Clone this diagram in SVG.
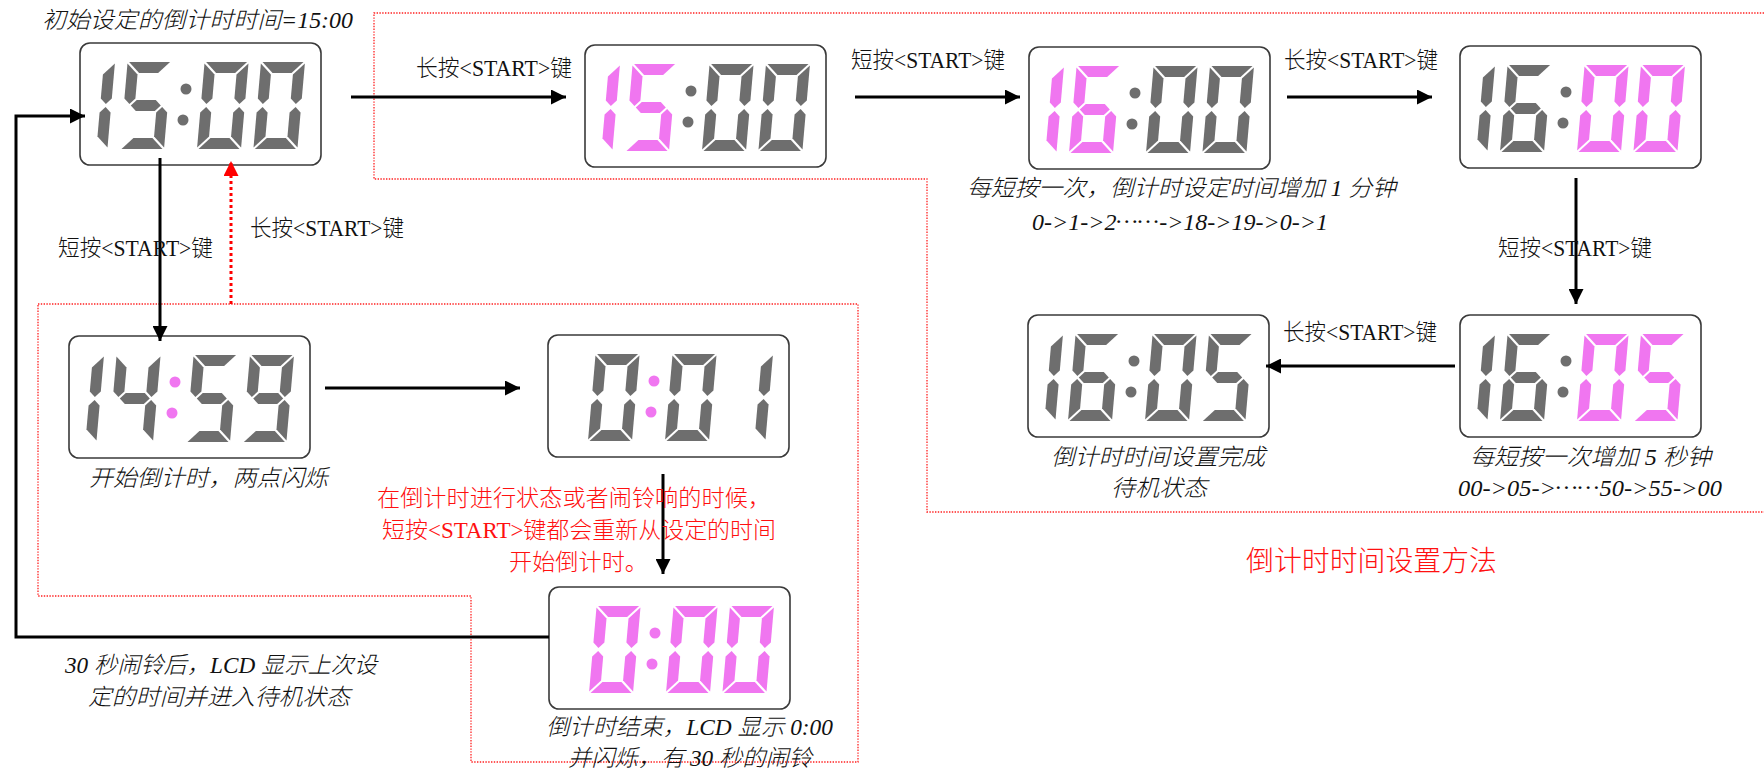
<svg xmlns="http://www.w3.org/2000/svg" xmlns:xlink="http://www.w3.org/1999/xlink" width="1764" height="769" viewBox="0 0 1764 769">
<style>
.box{fill:#fff;stroke:#3a3a3a;stroke-width:1.6}
.gy{fill:#6e6e6e}
.pk{fill:#f076f0}
.t{font-family:"Liberation Serif","Noto Sans CJK SC",serif;font-size:23px;fill:#111;font-weight:300}
.it{font-style:italic}
.red{fill:#ff1010}
.ln{stroke:#000;stroke-width:3;fill:none}
.rd{stroke:#ff2020;stroke-width:1.3;stroke-dasharray:1.4 1.4;fill:none}
</style>
<defs>
<marker id="ah" viewBox="0 0 15 15" refX="15" refY="7.5" markerWidth="15" markerHeight="15" markerUnits="userSpaceOnUse" orient="auto"><path d="M0,0L15,7.5L0,15Z" fill="#000"/></marker>
<marker id="ahr" viewBox="0 0 15 15" refX="15" refY="7.5" markerWidth="15" markerHeight="15" markerUnits="userSpaceOnUse" orient="auto"><path d="M0,0L15,7.5L0,15Z" fill="#ff0000"/></marker>
<path id="sa" d="M1.5,0H42.5L31.5,11H12.5Z"/>
<path id="sb" d="M44,1.5V36.5L38.5,42L33,36.5V12.5Z"/>
<path id="sc" d="M33,50.5L38.5,45L44,50.5V85.5L33,74.5Z"/>
<path id="sd" d="M12.5,76H31.5L42.5,87H1.5Z"/>
<path id="se" d="M0,50.5L5.5,45L11,50.5V74.5L0,85.5Z"/>
<path id="sf" d="M0,1.5L11,12.5V36.5L5.5,42L0,36.5Z"/>
<path id="sg" d="M7,43.5L12.5,38H31.5L37,43.5L31.5,49H12.5Z"/>
<g id="n0"><use href="#sa"/><use href="#sb"/><use href="#sc"/><use href="#sd"/><use href="#se"/><use href="#sf"/></g>
<g id="n1"><use href="#sb"/><use href="#sc"/></g>
<g id="n4"><use href="#sf"/><use href="#sg"/><use href="#sb"/><use href="#sc"/></g>
<g id="n5"><use href="#sa"/><use href="#sf"/><use href="#sg"/><use href="#sc"/><use href="#sd"/></g>
<g id="n6"><use href="#sa"/><use href="#sf"/><use href="#sg"/><use href="#se"/><use href="#sd"/><use href="#sc"/></g>
<g id="n9"><use href="#sa"/><use href="#sb"/><use href="#sc"/><use href="#sd"/><use href="#sf"/><use href="#sg"/></g>
<g id="col"><circle cx="106" cy="46" r="5.5"/><circle cx="103" cy="77" r="5.5"/></g>
<rect id="frame" class="box" x="0" y="0" width="241" height="122" rx="10"/>
</defs>

<g id="regions">
<path class="rd" d="M1764,13H374V179H927V512H1764"/>
<path class="rd" d="M38,304H858V762H471V596H38Z"/>
</g>

<g id="lcd-initial-1500">
<g transform="translate(80,43)">
<use href="#frame"/>
<use href="#n1" class="gy" transform="translate(-9,19) skewX(-5)"/>
<use href="#n5" class="gy" transform="translate(47.6,19) skewX(-5)"/>
<use href="#col" class="gy"/>
<use href="#n0" class="gy" transform="translate(124.6,19) skewX(-5)"/>
<use href="#n0" class="gy" transform="translate(181,19) skewX(-5)"/>
</g>
<text class="t it" x="42" y="28" textLength="311" lengthAdjust="spacingAndGlyphs">初始设定的倒计时时间=15:00</text>
</g>

<g id="lcd-set-min-1500">
<g transform="translate(585,45)">
<use href="#frame"/>
<use href="#n1" class="pk" transform="translate(-9,19) skewX(-5)"/>
<use href="#n5" class="pk" transform="translate(47.6,19) skewX(-5)"/>
<use href="#col" class="gy"/>
<use href="#n0" class="gy" transform="translate(124.6,19) skewX(-5)"/>
<use href="#n0" class="gy" transform="translate(181,19) skewX(-5)"/>
</g>
</g>

<g id="lcd-set-min-1600">
<g transform="translate(1029,47)">
<use href="#frame"/>
<use href="#n1" class="pk" transform="translate(-9,19) skewX(-5)"/>
<use href="#n6" class="pk" transform="translate(47.6,19) skewX(-5)"/>
<use href="#col" class="gy"/>
<use href="#n0" class="gy" transform="translate(124.6,19) skewX(-5)"/>
<use href="#n0" class="gy" transform="translate(181,19) skewX(-5)"/>
</g>
<text class="t it" x="967" y="196" textLength="429" lengthAdjust="spacingAndGlyphs">每短按一次，倒计时设定时间增加 1 分钟</text>
<text class="t it" x="1032" y="230" textLength="296" lengthAdjust="spacingAndGlyphs">0-&gt;1-&gt;2<tspan dy="-7">……</tspan><tspan dy="7">-&gt;18-&gt;19-&gt;0-&gt;1</tspan></text>
</g>

<g id="lcd-set-sec-1600">
<g transform="translate(1460,46)">
<use href="#frame"/>
<use href="#n1" class="gy" transform="translate(-9,19) skewX(-5)"/>
<use href="#n6" class="gy" transform="translate(47.6,19) skewX(-5)"/>
<use href="#col" class="gy"/>
<use href="#n0" class="pk" transform="translate(124.6,19) skewX(-5)"/>
<use href="#n0" class="pk" transform="translate(181,19) skewX(-5)"/>
</g>
</g>

<g id="lcd-set-sec-1605">
<g transform="translate(1460,315)">
<use href="#frame"/>
<use href="#n1" class="gy" transform="translate(-9,19) skewX(-5)"/>
<use href="#n6" class="gy" transform="translate(47.6,19) skewX(-5)"/>
<use href="#col" class="gy"/>
<use href="#n0" class="pk" transform="translate(124.6,19) skewX(-5)"/>
<use href="#n5" class="pk" transform="translate(181,19) skewX(-5)"/>
</g>
<text class="t it" x="1470" y="465" textLength="241" lengthAdjust="spacingAndGlyphs">每短按一次增加 5 秒钟</text>
<text class="t it" x="1458" y="496" textLength="264" lengthAdjust="spacingAndGlyphs">00-&gt;05-&gt;<tspan dy="-7">……</tspan><tspan dy="7">50-&gt;55-&gt;00</tspan></text>
</g>

<g id="lcd-standby-1605">
<g transform="translate(1028,315)">
<use href="#frame"/>
<use href="#n1" class="gy" transform="translate(-9,19) skewX(-5)"/>
<use href="#n6" class="gy" transform="translate(47.6,19) skewX(-5)"/>
<use href="#col" class="gy"/>
<use href="#n0" class="gy" transform="translate(124.6,19) skewX(-5)"/>
<use href="#n5" class="gy" transform="translate(181,19) skewX(-5)"/>
</g>
<text class="t it" x="1051" y="465" textLength="214" lengthAdjust="spacingAndGlyphs">倒计时时间设置完成</text>
<text class="t it" x="1111" y="496" textLength="96" lengthAdjust="spacingAndGlyphs">待机状态</text>
</g>

<g id="lcd-countdown-1459">
<g transform="translate(69,336)">
<use href="#frame"/>
<use href="#n1" class="gy" transform="translate(-9,19) skewX(-5)"/>
<use href="#n4" class="gy" transform="translate(47.6,19) skewX(-5)"/>
<use href="#col" class="pk"/>
<use href="#n5" class="gy" transform="translate(124.6,19) skewX(-5)"/>
<use href="#n9" class="gy" transform="translate(181,19) skewX(-5)"/>
</g>
<text class="t it" x="89" y="486" textLength="239" lengthAdjust="spacingAndGlyphs">开始倒计时，两点闪烁</text>
</g>

<g id="lcd-countdown-001">
<g transform="translate(548,335)">
<use href="#frame"/>
<use href="#n0" class="gy" transform="translate(47.6,19) skewX(-5)"/>
<use href="#col" class="pk"/>
<use href="#n0" class="gy" transform="translate(124.6,19) skewX(-5)"/>
<use href="#n1" class="gy" transform="translate(181,19) skewX(-5)"/>
</g>
</g>

<g id="lcd-end-000">
<g transform="translate(549,587)">
<use href="#frame"/>
<use href="#n0" class="pk" transform="translate(47.6,19) skewX(-5)"/>
<use href="#col" class="pk"/>
<use href="#n0" class="pk" transform="translate(124.6,19) skewX(-5)"/>
<use href="#n0" class="pk" transform="translate(181,19) skewX(-5)"/>
</g>
<text class="t it" x="546" y="735" textLength="287" lengthAdjust="spacingAndGlyphs">倒计时结束，LCD 显示 0:00</text>
<text class="t it" x="568" y="766" textLength="244" lengthAdjust="spacingAndGlyphs">并闪烁，有 30 秒的闹铃</text>
</g>

<g id="connectors">
<line class="ln" x1="351" y1="97" x2="566" y2="97" marker-end="url(#ah)"/>
<line class="ln" x1="855" y1="97" x2="1020" y2="97" marker-end="url(#ah)"/>
<line class="ln" x1="1287" y1="97" x2="1432" y2="97" marker-end="url(#ah)"/>
<line class="ln" x1="1576" y1="178" x2="1576" y2="304" marker-end="url(#ah)"/>
<line class="ln" x1="1455" y1="366" x2="1266" y2="366" marker-end="url(#ah)"/>
<line class="ln" x1="160" y1="158" x2="160" y2="341" marker-end="url(#ah)"/>
<line x1="231" y1="304" x2="231" y2="161" stroke="#ff0000" stroke-width="3" stroke-dasharray="3 3" marker-end="url(#ahr)"/>
<line class="ln" x1="325" y1="388" x2="520" y2="388" marker-end="url(#ah)"/>
<line class="ln" x1="663" y1="474" x2="663" y2="574" marker-end="url(#ah)"/>
<polyline class="ln" stroke-width="2.6" points="549,637 16,637 16,116 85,116" marker-end="url(#ah)"/>
</g>

<g id="labels">
<text class="t" x="416" y="76" textLength="156" lengthAdjust="spacingAndGlyphs">长按&lt;START&gt;键</text>
<text class="t" x="851" y="68" textLength="154" lengthAdjust="spacingAndGlyphs">短按&lt;START&gt;键</text>
<text class="t" x="1284" y="68" textLength="154" lengthAdjust="spacingAndGlyphs">长按&lt;START&gt;键</text>
<text class="t" x="1498" y="256" textLength="154" lengthAdjust="spacingAndGlyphs">短按&lt;START&gt;键</text>
<text class="t" x="1283" y="340" textLength="154" lengthAdjust="spacingAndGlyphs">长按&lt;START&gt;键</text>
<text class="t" x="58" y="256" textLength="155" lengthAdjust="spacingAndGlyphs">短按&lt;START&gt;键</text>
<text class="t" x="250" y="236" textLength="154" lengthAdjust="spacingAndGlyphs">长按&lt;START&gt;键</text>
<text class="t red" x="377" y="506" textLength="394" lengthAdjust="spacingAndGlyphs">在倒计时进行状态或者闹铃响的时候，</text>
<text class="t red" x="382" y="538" textLength="394" lengthAdjust="spacingAndGlyphs">短按&lt;START&gt;键都会重新从设定的时间</text>
<text class="t red" x="509" y="570" textLength="139" lengthAdjust="spacingAndGlyphs">开始倒计时。</text>
<text class="t it" x="65" y="673" textLength="312" lengthAdjust="spacingAndGlyphs">30 秒闹铃后，LCD 显示上次设</text>
<text class="t it" x="88" y="705" textLength="262" lengthAdjust="spacingAndGlyphs">定的时间并进入待机状态</text>
<text class="t red" x="1246" y="571" style="font-size:28px" textLength="251" lengthAdjust="spacingAndGlyphs">倒计时时间设置方法</text>
</g>
</svg>
